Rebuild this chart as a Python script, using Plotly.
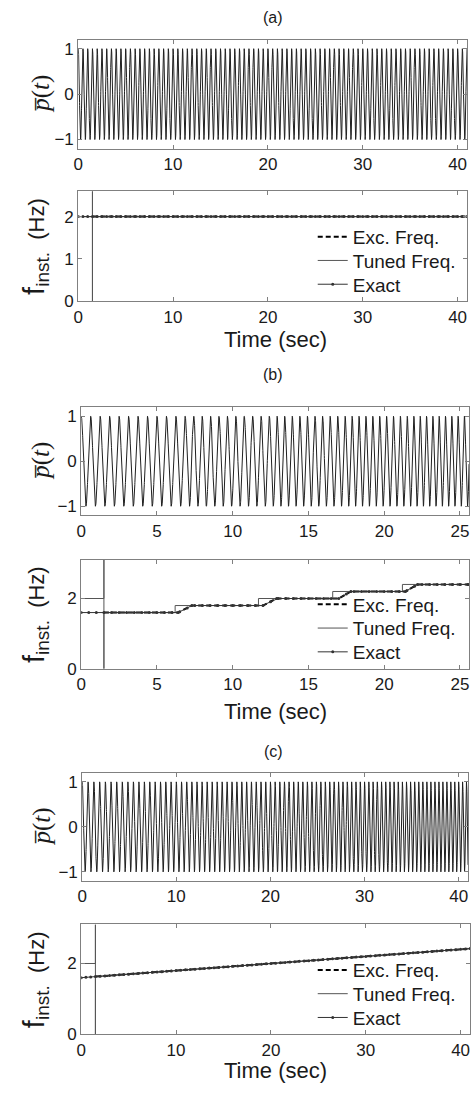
import numpy as np
import plotly.graph_objects as go

# ---------------- data ----------------
LOCK_T = 1.5      # time (s) at which the tuner engages
F_INIT = 2.0      # tuner's initial frequency (Hz)

# (a) constant-frequency excitation
A_T = [0.0, 41.0]
A_F = [2.0, 2.0]
A_TUNE_T = [1.5, 41.0]
A_TUNE_F = [2.0, 2.0]

# (b) stepped excitation frequency
B_T = [0.0, 6.4, 7.3, 12.0, 12.9, 17.0, 17.8, 21.4, 22.2, 25.6]
B_F = [1.6, 1.6, 1.8, 1.8, 2.0, 2.0, 2.2, 2.2, 2.4, 2.4]
B_TUNE_T = [1.5, 6.2, 6.2, 11.7, 11.7, 16.6, 16.6, 21.2, 21.2, 25.6]
B_TUNE_F = [1.6, 1.6, 1.8, 1.8, 2.0, 2.0, 2.2, 2.2, 2.4, 2.4]

# (c) linear chirp
C_T = [0.0, 41.0]
C_F = [1.6, 2.42]
C_TUNE_T = [1.5, 41.0]
C_TUNE_F = [1.63, 2.42]

PANELS = [
    dict(tag="(a)", T=A_T, F=A_F, TT=A_TUNE_T, TF=A_TUNE_F, tmax=41.0,
         xticks=[0, 10, 20, 30, 40], fmax=2.6, fticks=[0, 1, 2]),
    dict(tag="(b)", T=B_T, F=B_F, TT=B_TUNE_T, TF=B_TUNE_F, tmax=25.6,
         xticks=[0, 5, 10, 15, 20, 25], fmax=3.1, fticks=[0, 2]),
    dict(tag="(c)", T=C_T, F=C_F, TT=C_TUNE_T, TF=C_TUNE_F, tmax=41.0,
         xticks=[0, 10, 20, 30, 40], fmax=3.1, fticks=[0, 2]),
]
P_TICKS = [-1, 0, 1]
P_RANGE = [-1.2, 1.2]
SERIES_NAMES = ["Exc. Freq.", "Tuned Freq.", "Exact"]

# ---------------- layout geometry (pixels) ----------------
W, H = 476, 1093
# (left, right, top, bottom) of each axes box
BOXES = [
    (74, 467, 40, 150), (74, 467, 193, 304),
    (77, 469, 411, 520), (77, 469, 565, 675),
    (78, 468, 780, 889), (77, 470, 933, 1044),
]
TITLE_Y = [18, 378, 758]
XLABEL_Y = [343, 718, 1080]
LEGEND_ROWS = [[239, 263, 287], [610, 634, 658], [979, 1003, 1027]]
LEGEND_X = 311

FONT = "Liberation Sans, Arial, sans-serif"
INK = "#1a1a1a"
FRAME = "#808080"


def xdom(b):
    return [b[0] / W, b[1] / W]


def ydom(b):
    return [1 - b[3] / H, 1 - b[2] / H]


def py(v):
    return 1 - v / H


fig = go.Figure()
layout = dict(
    width=W, height=H, autosize=False,
    margin=dict(l=0, r=0, t=0, b=0),
    paper_bgcolor="white", plot_bgcolor="white",
    font=dict(family=FONT, color=INK, size=17),
    showlegend=True,
)

axis_style = dict(
    showline=True, linecolor=FRAME, linewidth=1, mirror="ticks",
    ticks="inside", ticklen=4, tickcolor=FRAME, tickwidth=1,
    showgrid=False, zeroline=False,
    tickfont=dict(family=FONT, size=17, color=INK),
)

annotations = []
legend_no = 0


def next_legend(row_y):
    """Register a one-entry legend centred on row_y and return its id."""
    global legend_no
    legend_no += 1
    name = "legend" if legend_no == 1 else f"legend{legend_no}"
    layout[name] = dict(
        x=LEGEND_X / W, xanchor="left", y=py(row_y), yanchor="middle",
        bgcolor="rgba(0,0,0,0)", borderwidth=0,
        font=dict(family=FONT, size=19, color=INK),
        itemwidth=30,
    )
    return name


for k, p in enumerate(PANELS):
    top_i, bot_i = 2 * k + 1, 2 * k + 2
    xs_top, ys_top = f"x{top_i}", f"y{top_i}"
    xs_bot, ys_bot = f"x{bot_i}", f"y{bot_i}"
    rows = LEGEND_ROWS[k]

    # excitation signal p(t) from the instantaneous-frequency profile
    t = np.arange(0.0, p["tmax"] + 1e-9, 0.005)
    f = np.interp(t, p["T"], p["F"])
    phase = 2 * np.pi * np.concatenate([[0.0], np.cumsum(0.5 * (f[1:] + f[:-1]) * np.diff(t))])
    sig = np.cos(phase)

    fig.add_trace(go.Scatter(
        x=t, y=sig, mode="lines", line=dict(color="#202020", width=1),
        xaxis=xs_top, yaxis=ys_top, showlegend=False, hoverinfo="skip"))

    # excitation frequency (dashed, after lock)
    exc_t = np.array([LOCK_T] + [v for v in p["T"] if v > LOCK_T])
    exc_f = np.interp(exc_t, p["T"], p["F"])
    fig.add_trace(go.Scatter(
        x=exc_t, y=exc_f, mode="lines", name=SERIES_NAMES[0],
        line=dict(color="black", width=2, dash="5px,3px"),
        xaxis=xs_bot, yaxis=ys_bot, legend=next_legend(rows[0])))

    # tuned frequency: initial value, jump at lock, then tracked value
    tune_x = [0.0, LOCK_T, LOCK_T, LOCK_T] + list(p["TT"])
    tune_y = [F_INIT, F_INIT, p["fmax"], 0.0] + list(p["TF"])
    fig.add_trace(go.Scatter(
        x=tune_x, y=tune_y, mode="lines", name=SERIES_NAMES[1],
        line=dict(color="#555555", width=1),
        xaxis=xs_bot, yaxis=ys_bot, legend=next_legend(rows[1])))

    # exact instantaneous frequency
    ex_t = np.union1d(np.array(p["T"]), np.arange(0.0, p["tmax"], 0.5))
    ex_f = np.interp(ex_t, p["T"], p["F"])
    fig.add_trace(go.Scatter(
        x=ex_t, y=ex_f, mode="lines+markers", name=SERIES_NAMES[2],
        line=dict(color="#333333", width=1),
        marker=dict(size=3, color="#333333"),
        xaxis=xs_bot, yaxis=ys_bot, legend=next_legend(rows[2])))

    bt, bb = BOXES[2 * k], BOXES[2 * k + 1]
    xa_name_t = "xaxis" if top_i == 1 else f"xaxis{top_i}"
    ya_name_t = "yaxis" if top_i == 1 else f"yaxis{top_i}"
    layout[xa_name_t] = dict(axis_style, domain=xdom(bt), anchor=ys_top,
                             range=[0, p["tmax"]], tickvals=p["xticks"])
    layout[ya_name_t] = dict(axis_style, domain=ydom(bt), anchor=xs_top,
                             range=P_RANGE, tickvals=P_TICKS)
    layout[f"xaxis{bot_i}"] = dict(axis_style, domain=xdom(bb), anchor=ys_bot,
                                   range=[0, p["tmax"]], tickvals=p["xticks"])
    layout[f"yaxis{bot_i}"] = dict(axis_style, domain=ydom(bb), anchor=xs_bot,
                                   range=[0, p["fmax"]], tickvals=p["fticks"])

    common = dict(xref="paper", yref="paper", showarrow=False,
                  xanchor="center", yanchor="middle")
    # panel tag
    annotations.append(dict(common, text=p["tag"], x=271 / W, y=py(TITLE_Y[k]),
                            font=dict(family=FONT, size=16, color=INK)))
    # time label
    annotations.append(dict(common, text="Time (sec)", x=273 / W, y=py(XLABEL_Y[k]),
                            font=dict(family=FONT, size=22, color=INK)))
    # p(t) label
    annotations.append(dict(common, text="<i>p\u0305</i>(<i>t</i>)", x=37 / W,
                            y=py((bt[2] + bt[3]) / 2), textangle=-90,
                            font=dict(family="Liberation Serif, serif", size=25, color=INK)))
    # f_inst label
    annotations.append(dict(common,
                            text="<span style='font-size:29px'>f</span>"
                                 "<sub><span style='font-size:19px'>inst.</span></sub>"
                                 "  (Hz)",
                            x=31 / W, y=py((bb[2] + bb[3]) / 2), textangle=-90,
                            font=dict(family=FONT, size=22, color=INK)))

layout["annotations"] = annotations
fig.update_layout(**layout)
fig.write_html("out.html")
